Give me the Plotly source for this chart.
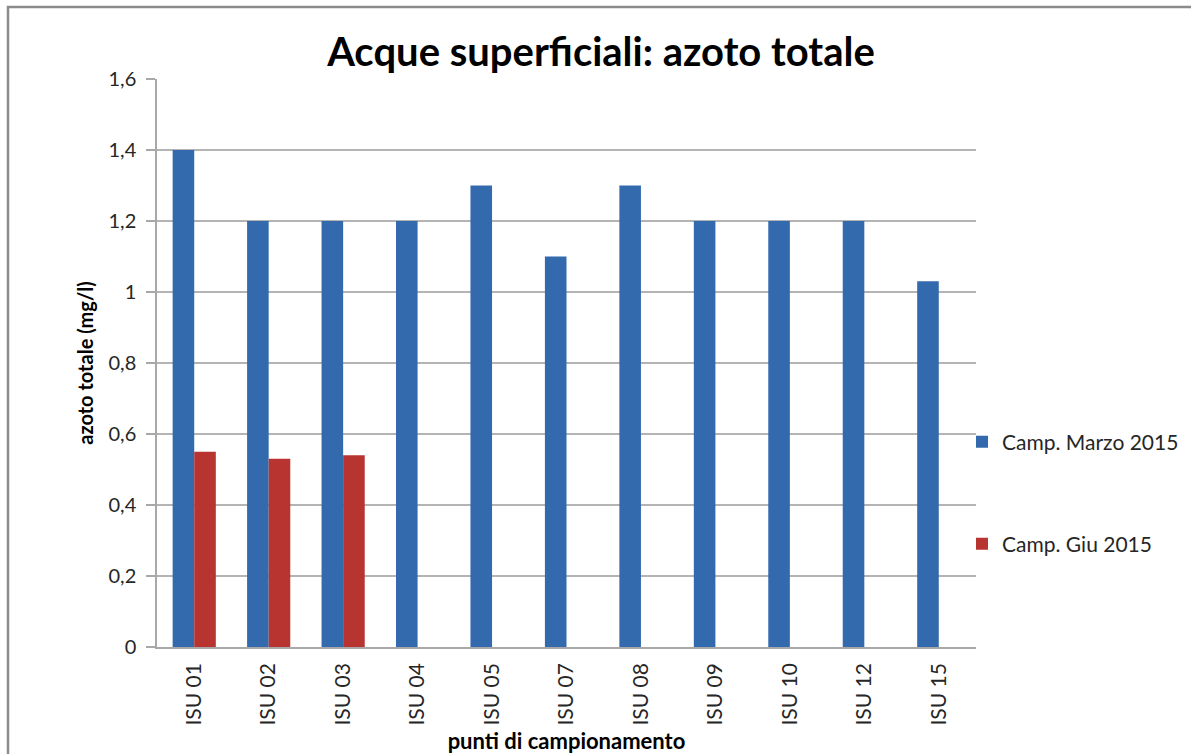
import plotly.graph_objects as go

categories = ["ISU 01", "ISU 02", "ISU 03", "ISU 04", "ISU 05", "ISU 07",
              "ISU 08", "ISU 09", "ISU 10", "ISU 12", "ISU 15"]
marzo_2015 = [1.4, 1.2, 1.2, 1.2, 1.3, 1.1, 1.3, 1.2, 1.2, 1.2, 1.03]
giu_2015 = [0.55, 0.53, 0.54, None, None, None, None, None, None, None, None]
y_tickvals = [0, 0.2, 0.4, 0.6, 0.8, 1.0, 1.2, 1.4, 1.6]
y_ticktext = ["0", "0,2", "0,4", "0,6", "0,8", "1", "1,2", "1,4", "1,6"]

FONT = "Lato"
BLUE = "#336AAE"
RED = "#B83431"
TXT = "#262626"

L, R, T, B = 157, 215, 79, 107
PW = 1191 - L - R
PH = 754 - T - B

fig = go.Figure()
fig.add_trace(go.Bar(x=categories, y=marzo_2015, name="Camp. Marzo 2015",
                     marker=dict(color=BLUE, line=dict(width=0)), legend="legend"))
fig.add_trace(go.Bar(x=categories, y=giu_2015, name="Camp. Giu 2015",
                     marker=dict(color=RED, line=dict(width=0)), legend="legend2"))

fig.update_layout(
    width=1191, height=754,
    paper_bgcolor="white", plot_bgcolor="white",
    margin=dict(l=L, r=R, t=T, b=B, autoexpand=False),
    barmode="group", bargap=0.42, bargroupgap=0,
    showlegend=True,
    font=dict(family=FONT, color=TXT),
    title=dict(text="<b>Acque superficiali: azoto totale</b>",
               x=601 / 1191, xref="container", xanchor="center",
               y=1 - 52 / 754, yanchor="middle",
               font=dict(size=40, color="black", family=FONT)),
    legend=dict(x=(962 - L) / PW, y=(647 - 442) / PH, xanchor="left", yanchor="middle",
                font=dict(size=21, color=TXT), itemwidth=30,
                bgcolor="rgba(0,0,0,0)"),
    legend2=dict(x=(962 - L) / PW, y=(647 - 544) / PH, xanchor="left", yanchor="middle",
                 font=dict(size=21, color=TXT), itemwidth=30,
                 bgcolor="rgba(0,0,0,0)"),
    xaxis=dict(
        type="category", tickangle=-90, tickfont=dict(size=21, color=TXT),
        showline=True, linecolor="#a8a8a8", linewidth=1.5,
        ticks="outside", ticklen=6, tickcolor="rgba(0,0,0,0)", showgrid=False,
        automargin=False,
        title=dict(text="<b>punti di campionamento</b>", font=dict(size=22, color="black"),
                   standoff=10),
    ),
    yaxis=dict(
        range=[0, 1.6], tickvals=y_tickvals, ticktext=y_ticktext,
        tickfont=dict(size=20, color=TXT),
        showgrid=True, gridcolor="#b4b4b4", gridwidth=1.5,
        showline=True, linecolor="#a8a8a8", linewidth=1.5,
        ticks="outside", ticklen=9, tickcolor="#a8a8a8", tickwidth=1.5,
        ticklabelstandoff=6, automargin=False,
        zeroline=False,
        title=dict(text="<b>azoto totale (mg/l)</b>", font=dict(size=20, color="black"),
                   standoff=10),
    ),
)

fig.add_shape(type="rect", xref="paper", yref="paper",
              x0=(8 - L) / PW, x1=(1200 - L) / PW,
              y0=(647 - 770) / PH, y1=(647 - 7) / PH,
              line=dict(color="#8c8c8c", width=2.5), fillcolor="rgba(0,0,0,0)",
              layer="below")

fig.write_html("out.html", config={"displayModeBar": False},
               post_script="document.body.style.margin='0';")
